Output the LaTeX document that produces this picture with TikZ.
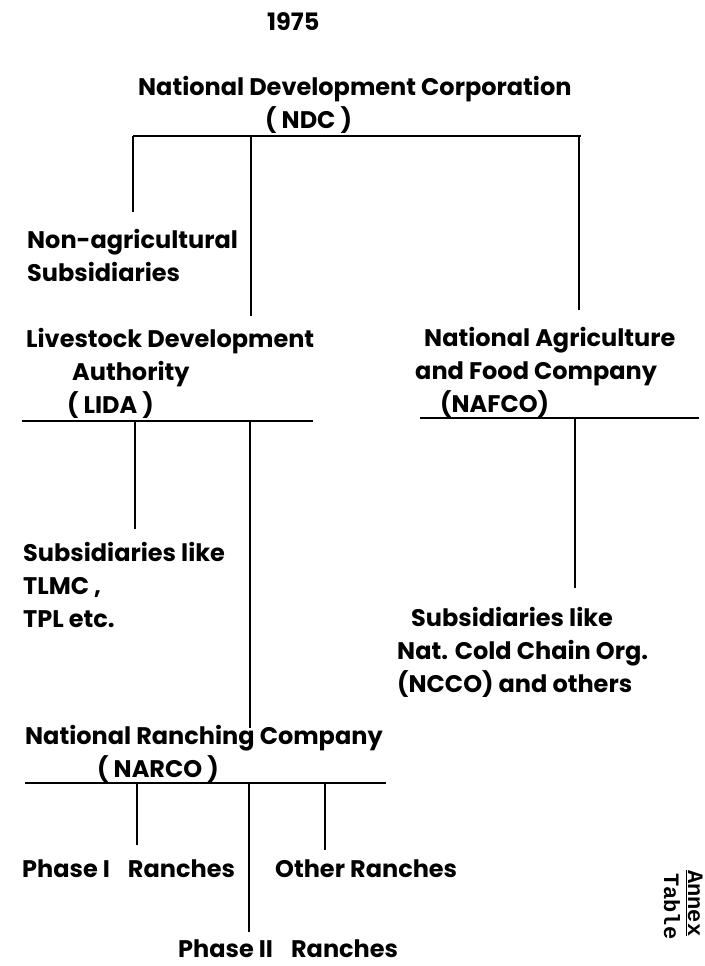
\documentclass[tikz,border=0pt]{standalone}
\usepackage{fontspec}
\newfontfamily\orgfont{Poppins}
\newfontfamily\annexfont{Liberation Mono}
\usepackage{tikz}

\tikzset{
  org/.style={align=left, anchor=base west, inner sep=0pt,
    font=\orgfont\bfseries\fontsize{24}{33}\selectfont},
  annex/.style={rotate=-90, anchor=base west, inner sep=0pt,
    font=\annexfont\bfseries\fontsize{22}{22}\selectfont},
  link/.style={line width=2.2pt},
}

\begin{document}
\begin{tikzpicture}[x=1pt, y=-1pt]
\useasboundingbox (0,0) rectangle (704,966);

% names (anchored on the baseline of the last line)
\node[org] (year) at (267,31) {1975};
\node[org] (ndc) at (138,128) {National Development Corporation\\\hspace*{127pt}( NDC )};
\node[org] (nonagri) at (27,281) {Non-agricultural\\Subsidiaries};
\node[org] (lida) at (26,413) {Livestock Development\\\hspace*{46pt}Authority\\\hspace*{41pt}( LIDA )};
\node[org] (nafco) at (415,412) {\hspace*{9pt}National Agriculture\\and Food Company\\\hspace*{25pt}(NAFCO)};
\node[org] (sublida) at (23,627) {Subsidiaries like\\TLMC ,\\TPL etc.};
\node[org] (subnafco) at (397,692) {\hspace*{14pt}Subsidiaries like\\Nat. Cold Chain Org.\\(NCCO) and others};
\node[org] (narco) at (25,777) {National Ranching Company\\\hspace*{72pt}( NARCO )};
\node[org] (phaseone) at (22,877) {Phase I\hspace{18pt}Ranches};
\node[org] (other) at (275,877) {Other Ranches};
\node[org] (phasetwo) at (178,957) {Phase II\hspace{18pt}Ranches};
\node[annex] (table) at (664,873) {Table};
\node[annex] (annextitle) at (688,870) {\underline{Annex}};

% NDC
\coordinate (ndcL) at (133,136);
\coordinate (ndcM) at (251,136);
\coordinate (ndcR) at (581,136);
\draw[link] (ndcL) -- (ndcR);
\draw[link] (ndcL) -- (133,212);
\draw[link] (ndcM) -- (251,316);
\draw[link] (579,136) -- (579,310);

% LIDA
\coordinate (lidaL) at (22,421);
\coordinate (lidaR) at (313,421);
\draw[link] (lidaL) -- (lidaR);
\draw[link] (135,421) -- (135,529);
\draw[link] (250,421) -- (250,728);

% NAFCO
\coordinate (nafcoL) at (420,418);
\coordinate (nafcoR) at (699,418);
\draw[link] (nafcoL) -- (nafcoR);
\draw[link] (575,418) -- (575,588);

% NARCO
\coordinate (narcoL) at (25,783);
\coordinate (narcoR) at (386,783);
\draw[link] (narcoL) -- (narcoR);
\draw[link] (137,783) -- (137,845);
\draw[link] (249,783) -- (249,932);
\draw[link] (325,783) -- (325,850);
\end{tikzpicture}
\end{document}
